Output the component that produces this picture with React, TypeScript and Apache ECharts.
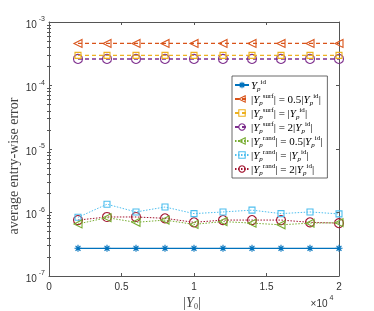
import React, { useEffect, useRef } from "react";
import * as echarts from "echarts";

const xVals = [2000, 4000, 6000, 8000, 10000, 12000, 14000, 16000, 18000, 20000];
const seriesNames = ["id", "surf05", "surf1", "surf2", "rand05", "rand1", "rand2"];
const idVals = [2.73e-7, 2.73e-7, 2.73e-7, 2.73e-7, 2.73e-7, 2.73e-7, 2.73e-7, 2.73e-7, 2.73e-7, 2.73e-7];
const surf05Vals = [4.6e-4, 4.6e-4, 4.6e-4, 4.6e-4, 4.6e-4, 4.6e-4, 4.6e-4, 4.6e-4, 4.6e-4, 4.6e-4];
const surf1Vals = [2.98e-4, 2.98e-4, 2.98e-4, 2.98e-4, 2.98e-4, 2.98e-4, 2.98e-4, 2.98e-4, 2.98e-4, 2.98e-4];
const surf2Vals = [2.62e-4, 2.62e-4, 2.62e-4, 2.62e-4, 2.62e-4, 2.62e-4, 2.62e-4, 2.62e-4, 2.62e-4, 2.62e-4];
const rand05Vals = [6.6e-7, 8.3e-7, 7.0e-7, 7.6e-7, 6.5e-7, 7.2e-7, 6.8e-7, 6.4e-7, 6.8e-7, 6.9e-7];
const rand1Vals = [8.4e-7, 1.35e-6, 1.02e-6, 1.22e-6, 9.6e-7, 1.02e-6, 1.09e-6, 9.6e-7, 1.02e-6, 9.5e-7];
const rand2Vals = [7.6e-7, 8.5e-7, 8.5e-7, 8.1e-7, 7.0e-7, 7.6e-7, 7.6e-7, 7.6e-7, 7.0e-7, 6.8e-7];
const xTickDivisor = 10000;
const yMin = 1e-7;
const yMax = 1e-3;

const colors = ["#0072BD", "#D95319", "#EDB120", "#7E2F8E", "#77AC30", "#4DBEEE", "#A2142F"];

const ASTERISK = "path://M5,0L5,10M0,5L10,5M1.5,1.5L8.5,8.5M1.5,8.5L8.5,1.5";
const LTRI = "path://M10,0L0,5L10,10Z";

const legendText: Record<string, string> = {
  id: "{i|Y}{sb|p}{sp|id}",
  surf05: "{t||}{i|Y}{sb|p}{sp|surf}{t|| = 0.5|}{i|Y}{sb|p}{sp|id}{t||}",
  surf1: "{t||}{i|Y}{sb|p}{sp|surf}{t|| = |}{i|Y}{sb|p}{sp|id}{t||}",
  surf2: "{t||}{i|Y}{sb|p}{sp|surf}{t|| = 2|}{i|Y}{sb|p}{sp|id}{t||}",
  rand05: "{t||}{i|Y}{sb|p}{sp|rand}{t|| = 0.5|}{i|Y}{sb|p}{sp|id}{t||}",
  rand1: "{t||}{i|Y}{sb|p}{sp|rand}{t|| = |}{i|Y}{sb|p}{sp|id}{t||}",
  rand2: "{t||}{i|Y}{sb|p}{sp|rand}{t|| = 2|}{i|Y}{sb|p}{sp|id}{t||}",
};

const SERIF = "Liberation Serif";
const SANS = "Liberation Sans";
const AX = "#555";
const TXT = "#333";

function minorValues() {
  const out: number[] = [];
  for (let e = -7; e < -3; e++) {
    for (let k = 2; k <= 9; k++) out.push(k * Math.pow(10, e));
  }
  return out;
}

export default function App() {
  const ref = useRef<HTMLDivElement>(null);
  useEffect(() => {
    if (!ref.current) return;
    const chart = echarts.init(ref.current, null, { renderer: "svg" });
    const valsList = [idVals, surf05Vals, surf1Vals, surf2Vals, rand05Vals, rand1Vals, rand2Vals];
    const symbols = [ASTERISK, LTRI, "rect", "circle", LTRI, "rect", "circle"];
    const sizes = [7, 8, 6, 9, 8, 6, 9];
    const lineTypes: any[] = ["solid", [4, 3], [4, 3], [4, 3], [1.5, 1.5], [1.5, 1.5], [1.5, 1.5]];
    const widths = [1.2, 1.2, 1.4, 1.4, 1, 1, 1];
    const fillOf = (i: number) => (i === 0 ? colors[i] : "rgba(255,255,255,0)");
    const series = seriesNames.map((n, i) => ({
      name: n,
      type: "line",
      xAxisIndex: 0,
      yAxisIndex: 0,
      data: xVals.map((x, j) => [x, valsList[i][j]]),
      symbol: symbols[i],
      symbolSize: sizes[i],
      symbolKeepAspect: true,
      showAllSymbol: true,
      lineStyle: { color: colors[i], width: widths[i], type: lineTypes[i] },
      itemStyle: {
        color: fillOf(i),
        borderColor: colors[i],
        borderWidth: 1.1,
      },
      emphasis: { disabled: true },
      z: 10 - i,
    }));

    const yBase = {
      type: "log",
      logBase: 10,
      min: yMin,
      max: yMax,
      splitLine: { show: false },
    };

    chart.setOption({
      animation: false,
      grid: { left: 49, right: 35, top: 22, bottom: 35, containLabel: false },
      xAxis: [
        {
          type: "value",
          min: 0,
          max: 20000,
          interval: 5000,
          position: "bottom",
          axisLine: { show: true, lineStyle: { color: AX, width: 1 } },
          axisTick: { show: true, inside: true, length: 3, lineStyle: { color: AX } },
          axisLabel: {
            formatter: (v: number) => String(v / xTickDivisor),
            fontFamily: SANS,
            fontSize: 10,
            color: TXT,
            margin: 5,
          },
          splitLine: { show: false },
        },
        {
          type: "value",
          min: 0,
          max: 20000,
          interval: 5000,
          position: "top",
          axisLine: { show: true, lineStyle: { color: AX, width: 1 } },
          axisTick: { show: true, inside: true, length: 3, lineStyle: { color: AX } },
          axisLabel: { show: false },
          splitLine: { show: false },
        },
      ],
      yAxis: [
        {
          ...yBase,
          position: "left",
          axisLine: { show: true, onZero: false, lineStyle: { color: AX, width: 1 } },
          axisTick: { show: true, inside: true, length: 3, lineStyle: { color: AX } },
          axisLabel: {
            formatter: (v: number) => `{b|10}{e| ${Math.round(Math.log10(v))}}`,
            color: TXT,
            margin: 4,
            rich: {
              b: { fontFamily: SANS, fontSize: 10, color: TXT, verticalAlign: "bottom", lineHeight: 14 },
              e: { fontFamily: SANS, fontSize: 7, color: TXT, verticalAlign: "top", lineHeight: 14 },
            },
          },
        },
        {
          ...yBase,
          position: "left",
          axisLine: { show: false },
          axisTick: { show: true, inside: true, length: 2, customValues: minorValues(), lineStyle: { color: AX } },
          axisLabel: { show: false },
        },
        {
          ...yBase,
          position: "right",
          axisLine: { show: true, onZero: false, lineStyle: { color: AX, width: 1 } },
          axisTick: { show: true, inside: true, length: 3, lineStyle: { color: AX } },
          axisLabel: { show: false },
        },
        {
          ...yBase,
          position: "right",
          axisLine: { show: false },
          axisTick: { show: true, inside: true, length: 2, customValues: minorValues(), lineStyle: { color: AX } },
          axisLabel: { show: false },
        },
      ],
      legend: {
        data: seriesNames.map((n, i) => ({
          name: n,
          itemStyle: { color: fillOf(i), borderColor: colors[i], borderWidth: 1.1 },
        })),
        orient: "vertical",
        left: 232,
        top: 76,
        padding: [2, 5, 2, 2],
        itemGap: 0,
        itemWidth: 14,
        itemHeight: 8,
        borderColor: "#444",
        borderWidth: 0.8,
        backgroundColor: "#fff",
        selectedMode: false,
        formatter: (n: string) => legendText[n],
        textStyle: {
          fontFamily: SERIF,
          fontSize: 11,
          color: "#000",
          padding: [0, 0, 0, -3],
          rich: {
            t: { fontFamily: SERIF, fontSize: 11, lineHeight: 14, verticalAlign: "middle" },
            i: { fontFamily: SERIF, fontStyle: "italic", fontSize: 11, lineHeight: 14, verticalAlign: "middle" },
            sp: { fontFamily: SERIF, fontSize: 7, lineHeight: 14, verticalAlign: "top" },
            sb: { fontFamily: SERIF, fontStyle: "italic", fontSize: 7, lineHeight: 14, verticalAlign: "bottom" },
          },
        },
      },
      graphic: [
        {
          type: "text",
          x: 13,
          y: 166,
          rotation: Math.PI / 2,
          style: {
            text: "average entry-wise error",
            font: `14px "${SERIF}", serif`,
            fill: "#444",
            align: "center",
            verticalAlign: "middle",
          },
        },
        {
          type: "text",
          x: 192,
          y: 302,
          style: {
            text: "{t||}{i|Y}{s|0}{t||}",
            align: "center",
            verticalAlign: "middle",
            rich: {
              t: { fontFamily: SERIF, fontSize: 14, fill: "#444", lineHeight: 16, verticalAlign: "middle" },
              i: { fontFamily: SERIF, fontStyle: "italic", fontSize: 14, fill: "#444", lineHeight: 16, verticalAlign: "middle" },
              s: { fontFamily: SERIF, fontSize: 8, fill: "#444", lineHeight: 16, verticalAlign: "bottom" },
            },
          },
        },
        {
          type: "text",
          x: 322,
          y: 301,
          style: {
            text: "{b|×10}{e| 4}",
            align: "center",
            verticalAlign: "middle",
            rich: {
              b: { fontFamily: SANS, fontSize: 10, fill: TXT, lineHeight: 14, verticalAlign: "bottom" },
              e: { fontFamily: SANS, fontSize: 7, fill: TXT, lineHeight: 14, verticalAlign: "top" },
            },
          },
        },
      ],
      series,
    });
    return () => chart.dispose();
  }, []);
  return <div ref={ref} style={{ position: "fixed", left: 0, top: 0, width: 374, height: 311 }} />;
}
